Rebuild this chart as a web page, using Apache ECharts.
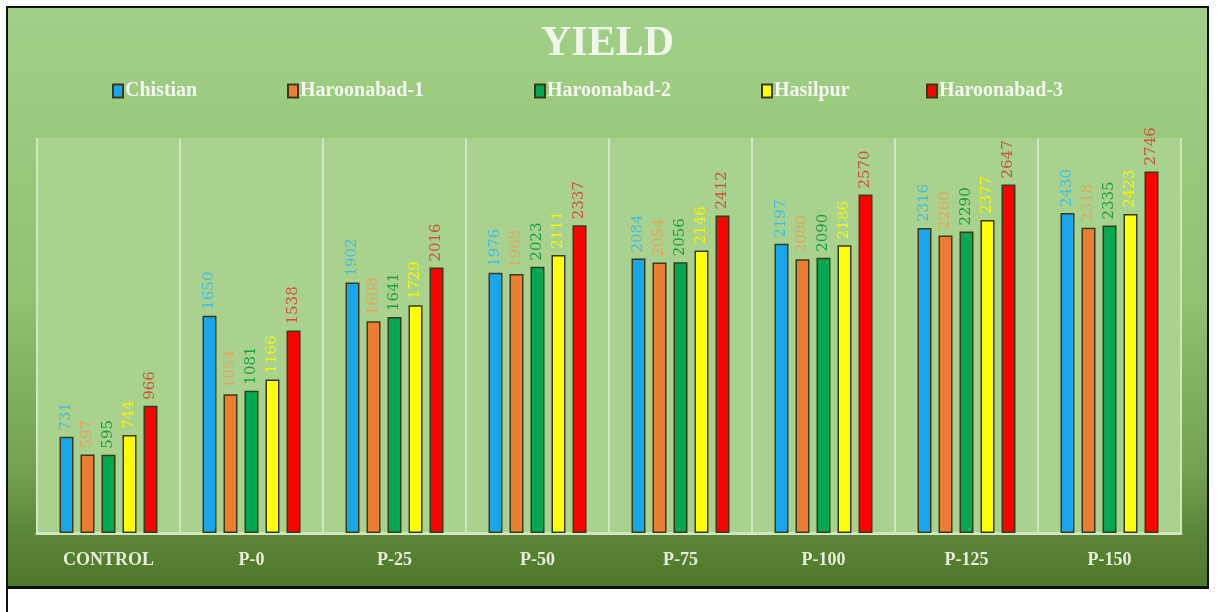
<!DOCTYPE html>
<html>
<head>
<meta charset="utf-8">
<title>YIELD</title>
<script src="https://cdn.jsdelivr.net/npm/echarts@6/dist/echarts.min.js"></script>
<style>
  html, body { margin: 0; padding: 0; background: #ffffff; width: 1219px; height: 612px; overflow: hidden; }
  #frame { position: absolute; left: 6px; top: 6px; width: 1199px; height: 578px; border: 2px solid #111; border-bottom-width: 3px; }
  #rule { position: absolute; left: 6px; top: 586px; width: 2px; height: 26px; background: #111; }
  #chart { position: absolute; left: 8px; top: 8px; width: 1199px; height: 578px; }
</style>
</head>
<body>
<div id="frame"></div>
<div id="rule"></div>
<div id="chart"></div>
<script>
// Treatments along the x axis
const categories = ['CONTROL', 'P-0', 'P-25', 'P-50', 'P-75', 'P-100', 'P-125', 'P-150'];

// Yield per location
const chistian    = [731, 1650, 1902, 1976, 2084, 2197, 2316, 2430];
const haroonabad1 = [597, 1054, 1608, 1968, 2054, 2080, 2260, 2318];
const haroonabad2 = [595, 1081, 1641, 2023, 2056, 2090, 2290, 2335];
const hasilpur    = [744, 1166, 1729, 2111, 2146, 2186, 2377, 2423];
const haroonabad3 = [966, 1538, 2016, 2337, 2412, 2570, 2647, 2746];

const seriesNames = ['Chistian', 'Haroonabad-1', 'Haroonabad-2', 'Hasilpur', 'Haroonabad-3'];
const seriesData = [chistian, haroonabad1, haroonabad2, hasilpur, haroonabad3];
const barColors = ['#19a6ea', '#ed7d31', '#00a84f', '#ffff00', '#ff0000'];
const labelColors = ['#46bde0', '#e3a463', '#1f9e48', '#f4f40c', '#c9553a'];
const legendLeft = [99, 274, 521, 748, 913];

const chart = echarts.init(document.getElementById('chart'));

const serif = '"Liberation Serif", "Times New Roman", serif';

const option = {
  animation: false,
  backgroundColor: {
    type: 'linear', x: 0, y: 0, x2: 0, y2: 1,
    colorStops: [
      { offset: 0, color: '#a2cf88' },
      { offset: 0.5, color: '#90c270' },
      { offset: 0.8, color: '#73a14f' },
      { offset: 0.92, color: '#5a8335' },
      { offset: 1, color: '#4f782c' }
    ]
  },
  title: {
    text: 'YIELD',
    left: 'center',
    top: 10,
    textStyle: {
      fontFamily: serif,
      fontWeight: 'bold',
      fontSize: 42,
      color: '#f1f6ea'
    }
  },
  legend: seriesNames.map((name, i) => ({
    data: [name],
    left: legendLeft[i],
    top: 68,
    icon: 'rect',
    itemWidth: 10,
    itemHeight: 13,
    itemGap: 0,
    textStyle: {
      fontFamily: serif,
      fontWeight: 'bold',
      fontSize: 20,
      color: '#f4f7ef',
      padding: [0, 0, 0, -3]
    }
  })),
  grid: {
    left: 29,
    right: 26,
    top: 130,
    bottom: 53,
    show: true,
    backgroundColor: '#a9d28e',
    borderWidth: 0
  },
  xAxis: {
    type: 'category',
    data: categories,
    axisTick: { show: false },
    axisLine: { show: true, lineStyle: { color: '#cfe6bf', width: 3 } },
    splitLine: { show: true, lineStyle: { color: '#cfe6bf', width: 2 } },
    axisLabel: {
      margin: 18,
      fontFamily: serif,
      fontWeight: 'bold',
      fontSize: 18,
      color: '#e3efd8'
    }
  },
  yAxis: {
    type: 'value',
    min: 0,
    max: 3000,
    show: false,
    splitLine: { show: false }
  },
  series: seriesNames.map((name, i) => ({
    name: name,
    type: 'bar',
    data: seriesData[i],
    barWidth: 14,
    barGap: '50%',
    itemStyle: {
      color: barColors[i],
      borderColor: '#3a3a1c',
      borderWidth: 1.5
    },
    label: {
      show: true,
      position: 'top',
      rotate: 90,
      align: 'left',
      verticalAlign: 'middle',
      distance: 6,
      fontFamily: '"DejaVu Serif", serif',
      fontSize: 15,
      color: labelColors[i]
    }
  }))
};

chart.setOption(option);
</script>
</body>
</html>
